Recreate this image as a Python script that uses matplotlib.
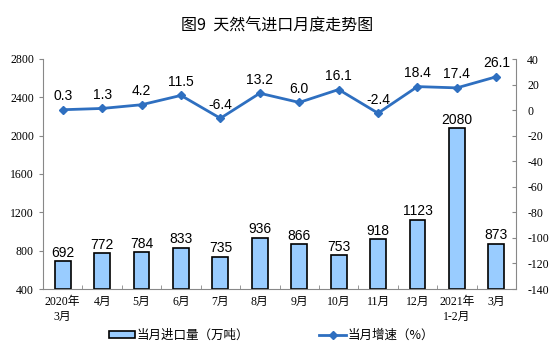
import numpy as np
import matplotlib.pyplot as plt

plt.rcParams['font.family'] = ['Liberation Serif', 'Noto Sans CJK SC']
plt.rcParams['axes.unicode_minus'] = False

months = ['2020年\n3月', '4月', '5月', '6月', '7月', '8月', '9月', '10月', '11月', '12月', '2021年\n1-2月', '3月']
imports = [692, 772, 784, 833, 735, 936, 866, 753, 918, 1123, 2080, 873]
growth = [0.3, 1.3, 4.2, 11.5, -6.4, 13.2, 6.0, 16.1, -2.4, 18.4, 17.4, 26.1]

fig = plt.figure(figsize=(5.54, 3.53), dpi=100)
ax = fig.add_axes([43 / 554, 64 / 353, 473 / 554, 230 / 353])
x = np.arange(len(months))

ax.bar(x, np.array(imports) - 400, bottom=400, width=0.4, color='#99CCFF',
       edgecolor='black', linewidth=1.2, label='当月进口量（万吨）', zorder=2)
for xi, v in zip(x, imports):
    ax.text(xi, v + 15, str(v), ha='center', va='bottom', fontsize=10,
            family=['Liberation Sans', 'DejaVu Sans'])

ax.set_xlim(-0.5, len(months) - 0.5)
ax.set_ylim(400, 2800)
ax.set_yticks(np.arange(400, 2801, 400))
ax.set_xticks(x)
ax.set_xticklabels(months, fontsize=8.5, linespacing=1.3)
ax.set_xticks(np.arange(-0.5, len(months), 1), minor=True)
ax.tick_params(axis='x', which='major', length=0, pad=5)
ax.tick_params(axis='x', which='minor', length=3, direction='in', color='#888888')
ax.tick_params(axis='y', labelsize=8.5, length=3, color='#888888')
ax.spines['top'].set_visible(False)
ax.spines['right'].set_visible(False)
for s in ['left', 'bottom']:
    ax.spines[s].set_color('#888888')

ax2 = ax.twinx()
ax2.plot(x, growth, color='#2E6FC0', linewidth=2, marker='D', markersize=4,
         label='当月增速（%）', zorder=3)
for xi, v in zip(x, growth):
    ax2.text(xi, v + 5, f'{v:.1f}', ha='center', va='bottom', fontsize=10,
             family=['Liberation Sans', 'DejaVu Sans'])
ax2.set_ylim(-140, 40)
ax2.set_yticks(np.arange(-140, 41, 20))
ax2.tick_params(axis='y', labelsize=8.5, length=3, direction='in', color='#888888', pad=8)
ax2.spines['top'].set_visible(False)
ax2.spines['left'].set_visible(False)
ax2.spines['bottom'].set_visible(False)
ax2.spines['right'].set_color('#888888')

fig.text(0.5, 0.925, '图9  天然气进口月度走势图', ha='center', va='center', fontsize=11.5,
         family=['Noto Sans CJK SC', 'DejaVu Sans'])

h1, l1 = ax.get_legend_handles_labels()
h2, l2 = ax2.get_legend_handles_labels()
fig.legend(h1 + h2, l1 + l2, loc='center', bbox_to_anchor=(0.49, 0.05), ncol=2,
           frameon=False, handlelength=2.1, handleheight=0.5, handletextpad=0.15,
           columnspacing=5.6,
           prop={'family': ['Noto Sans CJK SC', 'DejaVu Sans'], 'size': 9})

fig.savefig('out.png', dpi=100)
